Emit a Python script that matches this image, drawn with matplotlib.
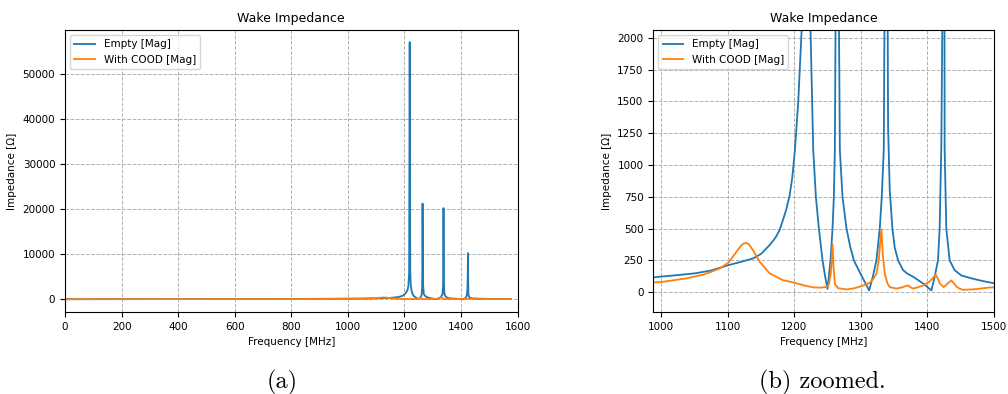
import numpy as np
import matplotlib
matplotlib.use('Agg')
import matplotlib.pyplot as plt

# Empty cavity, magnitude of wake impedance
freq_empty = [0, 200, 400, 600, 800, 900, 988, 1000, 1025, 1050, 1075, 1101, 1120, 1138,
              1150, 1163, 1172, 1178, 1183, 1188, 1193, 1197, 1201, 1206, 1211, 1214, 1216.5,
              1218.5, 1220.5, 1222.5, 1224.5, 1228.5, 1232.5, 1237, 1242.5, 1246.5, 1250,
              1254.5, 1257.5, 1259.5, 1261, 1262.5, 1263.5, 1264, 1264.8, 1266, 1268.5,
              1272.5, 1278.5, 1284, 1289.5, 1300, 1307, 1312.5, 1318, 1323.5, 1328.5,
              1331.5, 1334.5, 1336.5, 1337.5, 1338, 1338.8, 1339.8, 1341, 1343.5, 1347.5,
              1351, 1356, 1363.5, 1370, 1378.5, 1386, 1393.5, 1400, 1406, 1411, 1416,
              1418.5, 1421, 1422.5, 1423.5, 1424.5, 1425.3, 1426, 1428.5, 1433.5, 1441,
              1451, 1468.5, 1485, 1500, 1540, 1576]
z_empty = [5, 15, 30, 45, 65, 85, 115, 122, 134, 147, 170, 212, 238, 265,
           300, 370, 430, 488, 567, 650, 760, 900, 1118, 1500, 2050, 3000, 6000,
           57000, 6000, 3000, 2050, 1120, 750, 500, 250, 120, 25,
           250, 500, 750, 1120, 2500, 8000, 21200, 8000, 3000, 1120,
           750, 500, 360, 250, 140, 70, 13, 120, 250, 500,
           750, 1120, 3000, 8000, 20200, 8000, 3000, 1300, 800, 500,
           350, 250, 173, 145, 121, 95, 68, 40, 13, 120, 250,
           500, 1150, 2100, 4500, 10200, 4500, 1118, 500, 250, 173,
           131, 105, 85, 70, 40, 30]

# With COOD, magnitude of wake impedance
freq_cood = [0, 200, 400, 600, 800, 900, 988, 1000, 1038, 1065, 1088, 1101, 1113, 1120,
             1124, 1128, 1132, 1138, 1148, 1163, 1183, 1201, 1215, 1228.5, 1240, 1248.5,
             1252, 1255, 1257.5, 1259, 1261, 1266, 1278.5, 1290, 1299.5, 1307, 1313.5,
             1319, 1323.5, 1327, 1329, 1331, 1333, 1336, 1340, 1343.5, 1353.5, 1363.5,
             1367, 1371, 1374, 1378.5, 1386, 1393.5, 1403.5, 1408, 1412.5, 1415.5, 1418.5,
             1424.5, 1430, 1436, 1440, 1443.5, 1448, 1453.5, 1463, 1473.5, 1493.5, 1500,
             1540, 1576]
z_cood = [2, 5, 10, 18, 30, 45, 76, 79, 108, 140, 186, 231, 317, 365,
          382, 388, 375, 330, 239, 147, 94, 73, 52, 37, 35, 41,
          60, 150, 378, 200, 65, 31, 21, 30, 44, 58, 73,
          105, 144, 250, 380, 493, 300, 144, 70, 39, 28, 39,
          47, 52, 40, 28, 38, 52, 83, 110, 138, 110, 70,
          39, 65, 92, 70, 44, 28, 18, 20, 24, 36, 37,
          28, 20]

plt.rcParams['font.size'] = 7.5

fig = plt.figure(figsize=(10.08, 3.94), dpi=100)
ax1 = fig.add_axes([0.0645, 0.208, 0.449, 0.716])
ax2 = fig.add_axes([0.648, 0.208, 0.338, 0.716])

for ax in (ax1, ax2):
    ax.plot(freq_empty, z_empty, color='#1f77b4', lw=1.3, label='Empty [Mag]')
    ax.plot(freq_cood, z_cood, color='#ff7f0e', lw=1.3, label='With COOD [Mag]')
    ax.grid(True, linestyle='--', color='#b0b0b0', linewidth=0.7)
    ax.set_title('Wake Impedance', fontsize=9)
    ax.set_xlabel('Frequency [MHz]')
    ax.set_ylabel('Impedance [Ω]')
    ax.legend(loc='upper left', fontsize=7.5)

ax1.set_xlim(0, 1600)
ax1.set_ylim(-2850, 59700)
ax1.set_xticks(np.arange(0, 1601, 200))
ax1.set_yticks(np.arange(0, 50001, 10000))

ax2.set_xlim(988, 1500)
ax2.set_ylim(-157, 2063)
ax2.set_xticks(np.arange(1000, 1501, 100))
ax2.set_yticks(np.arange(0, 2001, 250))

fig.text(0.28, 0.03, '(a)', fontsize=17.5, family='cmr10', ha='center', va='center')
fig.text(0.8155, 0.03, '(b) zoomed.', fontsize=17.5, family='cmr10', ha='center', va='center')

fig.savefig('out.png', dpi=100)
